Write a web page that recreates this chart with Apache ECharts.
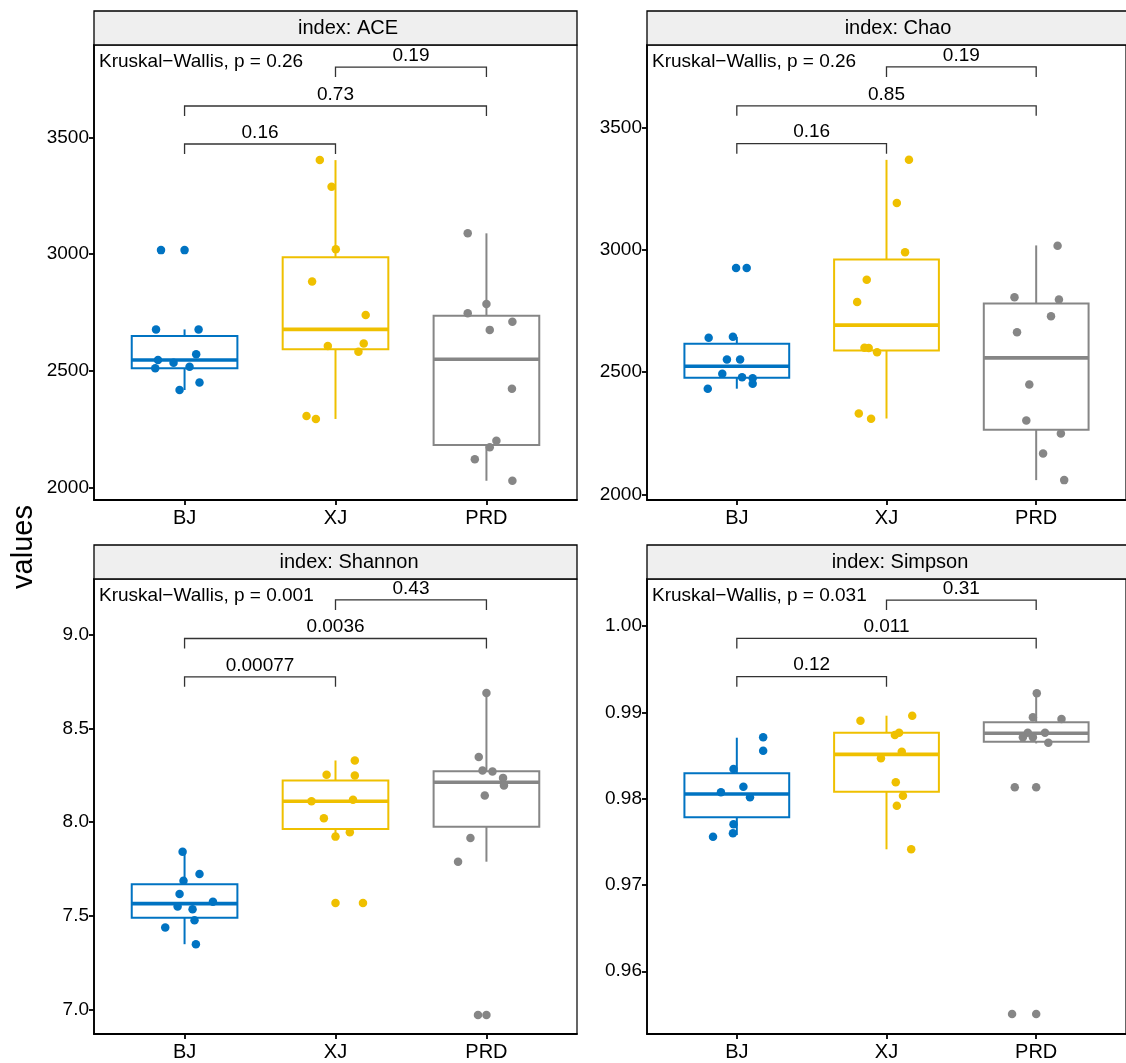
<!DOCTYPE html>
<html>
<head>
<meta charset="utf-8">
<script src="https://cdn.jsdelivr.net/npm/echarts@6/dist/echarts.min.js"></script>
<style>
  html, body { margin: 0; padding: 0; background: #fff; }
  #chart { width: 1126px; height: 1063px; }
</style>
</head>
<body>
<div id="chart"></div>
<script>
// groups and colours (jco palette)
const groups = ['BJ', 'XJ', 'PRD']
const colors = ['#0073C2', '#EFC000', '#868686']
const panelNames = ['ACE', 'Chao', 'Shannon', 'Simpson']
const kwLabels = ['Kruskal\u2212Wallis, p = 0.26', 'Kruskal\u2212Wallis, p = 0.26', 'Kruskal\u2212Wallis, p = 0.001', 'Kruskal\u2212Wallis, p = 0.031']

// pairwise comparisons: BJ-XJ, BJ-PRD, XJ-PRD
const pairs = [[0, 1], [0, 2], [1, 2]]
const pLabels = [
  ['0.16', '0.73', '0.19'],
  ['0.16', '0.85', '0.19'],
  ['0.00077', '0.0036', '0.43'],
  ['0.12', '0.011', '0.31']
]
const bracketY = [
  [3472, 3635, 3802],
  [3434, 3589, 3748],
  [8.777, 8.982, 9.188],
  [0.99413, 0.99857, 1.00301]
]

// y ranges and ticks
const yRange = [[1945.5, 3896.6], [1976.7, 3837.8], [6.868, 9.300], [0.95273, 1.00545]]
const yTicks = [
  [2000, 2500, 3000, 3500],
  [2000, 2500, 3000, 3500],
  [7.0, 7.5, 8.0, 8.5, 9.0],
  [0.96, 0.97, 0.98, 0.99, 1.00]
]
const yDigits = [0, 0, 1, 2]

// box stats per group: [low, q1, median, q3, high]
const aceBox = [[2417, 2510, 2546, 2649, 2677], [2293, 2592, 2677, 2986, 3403], [2028, 2181, 2549, 2736, 3089]]
const chaoBox = [[2432, 2477, 2524, 2616, 2644], [2310, 2588, 2692, 2960, 3368], [2058, 2264, 2558, 2780, 3018]]
const shannonBox = [[7.348, 7.490, 7.565, 7.669, 7.842], [7.923, 7.964, 8.112, 8.223, 8.330], [7.789, 7.976, 8.214, 8.273, 8.691]]
const simpsonBox = [[0.97578, 0.97783, 0.98053, 0.98293, 0.98706], [0.97413, 0.98080, 0.98513, 0.98764, 0.98961], [0.9864, 0.98659, 0.98757, 0.98884, 0.99220]]

// sample values per group
const aceValues = [
  [3017, 3017, 2677, 2677, 2546, 2534, 2510, 2517, 2570, 2417, 2449],
  [3403, 3289, 3021, 2882, 2739, 2606, 2617, 2581, 2306, 2293],
  [3089, 2786, 2746, 2710, 2675, 2423, 2200, 2172, 2120, 2028]
]
const chaoValues = [
  [2926, 2926, 2640, 2644, 2551, 2551, 2493, 2479, 2475, 2452, 2432],
  [3368, 3192, 2990, 2878, 2787, 2599, 2598, 2581, 2331, 2309],
  [3017, 2806, 2797, 2728, 2663, 2449, 2302, 2249, 2167, 2058]
]
const shannonValues = [
  [7.842, 7.723, 7.687, 7.616, 7.575, 7.549, 7.535, 7.476, 7.437, 7.348],
  [8.330, 8.254, 8.250, 8.112, 8.120, 8.021, 7.923, 7.946, 7.568, 7.568],
  [8.691, 8.348, 8.277, 8.271, 8.237, 8.196, 8.143, 7.916, 7.789, 6.969, 6.969]
]
const simpsonValues = [
  [0.98710, 0.98555, 0.98343, 0.98138, 0.98073, 0.98015, 0.97702, 0.97598, 0.97558],
  [0.98903, 0.98961, 0.98737, 0.98764, 0.98543, 0.98467, 0.98189, 0.98034, 0.97918, 0.97413],
  [0.99220, 0.98942, 0.98922, 0.98764, 0.98764, 0.98710, 0.98710, 0.98648, 0.98131, 0.98131, 0.95504, 0.95504]
]

// horizontal jitter of each point (category units)
const aceJitter = [
  [-0.156, 0, -0.189, 0.093, -0.176, -0.073, -0.194, 0.033, 0.077, -0.033, 0.099],
  [-0.104, -0.026, 0.002, -0.155, 0.200, -0.051, 0.187, 0.152, -0.192, -0.130],
  [-0.124, 0, -0.124, 0.172, 0.022, 0.169, 0.066, 0.022, -0.077, 0.172]
]
const chaoJitter = [
  [-0.005, 0.066, -0.188, -0.026, -0.066, 0.022, -0.097, 0.035, 0.106, 0.106, -0.194],
  [0.150, 0.069, 0.124, -0.132, -0.196, -0.147, -0.119, -0.063, -0.185, -0.103],
  [0.143, -0.145, 0.152, 0.099, -0.128, -0.046, -0.066, 0.165, 0.046, 0.187]
]
const shannonJitter = [
  [-0.013, 0.099, -0.007, -0.033, 0.188, -0.046, 0.053, 0.066, -0.128, 0.075],
  [0.128, -0.059, 0.128, -0.159, 0.116, -0.077, 0, 0.095, 0, 0.182],
  [0, -0.051, -0.026, 0.040, 0.110, 0.116, -0.011, -0.106, -0.188, -0.056, 0]
]
const simpsonJitter = [
  [0.176, 0.176, -0.022, 0.044, -0.106, 0.088, -0.022, -0.026, -0.159],
  [-0.174, 0.172, 0.056, 0.084, 0.102, -0.037, 0.062, 0.110, 0.069, 0.165],
  [0.004, -0.022, 0.169, -0.056, 0.059, -0.022, -0.089, 0.081, -0.143, 0, -0.161, 0]
]

const boxes = [aceBox, chaoBox, shannonBox, simpsonBox]
const values = [aceValues, chaoValues, shannonValues, simpsonValues]
const jitters = [aceJitter, chaoJitter, shannonJitter, simpsonJitter]

// layout of the 2x2 facets
const FONT = 'Liberation Sans, Arial, sans-serif'
const gridPos = [
  { left: 94, top: 45 },
  { left: 647, top: 45 },
  { left: 94, top: 579 },
  { left: 647, top: 579 }
]
const PANEL_W = 483
const PANEL_H = 455
const stripCenters = [348, 898, 349, 900]

const chart = echarts.init(document.getElementById('chart'), null, { renderer: 'canvas' })

const grid = []
const xAxis = []
const yAxis = []
const series = []
const graphic = []

panelNames.forEach((name, i) => {
  const g = gridPos[i]
  grid.push({
    left: g.left, top: g.top, width: PANEL_W, height: PANEL_H,
    show: true, borderColor: '#000', borderWidth: 1.2, backgroundColor: 'transparent'
  })
  xAxis.push({
    gridIndex: i, type: 'value', min: -0.6, max: 2.6,
    splitLine: { show: false },
    axisLine: { show: true, onZero: false, lineStyle: { color: '#000', width: 1.8 } },
    axisTick: { show: true, length: 5, customValues: [0, 1, 2], lineStyle: { color: '#000', width: 1.8 } },
    axisLabel: {
      customValues: [0, 1, 2], formatter: v => groups[Math.round(v)],
      color: '#000', fontSize: 20, fontFamily: FONT, margin: 8
    }
  })
  yAxis.push({
    gridIndex: i, type: 'value', min: yRange[i][0], max: yRange[i][1],
    splitLine: { show: false },
    axisLine: { show: true, onZero: false, lineStyle: { color: '#000', width: 1.8 } },
    axisTick: { show: true, length: 5, customValues: yTicks[i], lineStyle: { color: '#000', width: 1.8 } },
    axisLabel: {
      customValues: yTicks[i], formatter: v => Number(v).toFixed(yDigits[i]),
      color: '#000', fontSize: 19, fontFamily: FONT, margin: 5
    }
  })

  // boxes
  series.push({
    type: 'custom', xAxisIndex: i, yAxisIndex: i, z: 2,
    data: boxes[i].map((b, k) => [k].concat(b)),
    renderItem: (params, api) => {
      const k = api.value(0)
      const col = colors[k]
      const half = api.size([0.35, 0])[0]
      const lo = api.coord([k, api.value(1)])
      const q1 = api.coord([k, api.value(2)])
      const md = api.coord([k, api.value(3)])
      const q3 = api.coord([k, api.value(4)])
      const hi = api.coord([k, api.value(5)])
      const st = { stroke: col, lineWidth: 2, fill: null }
      return {
        type: 'group',
        children: [
          { type: 'line', shape: { x1: lo[0], y1: lo[1], x2: q1[0], y2: q1[1] }, style: st },
          { type: 'line', shape: { x1: q3[0], y1: q3[1], x2: hi[0], y2: hi[1] }, style: st },
          { type: 'rect', shape: { x: q3[0] - half, y: q3[1], width: half * 2, height: q1[1] - q3[1] }, style: { stroke: col, lineWidth: 2, fill: '#fff' } },
          { type: 'line', shape: { x1: md[0] - half, y1: md[1], x2: md[0] + half, y2: md[1] }, style: { stroke: col, lineWidth: 3.6 } }
        ]
      }
    }
  })

  // jittered points
  groups.forEach((grp, k) => {
    series.push({
      type: 'scatter', xAxisIndex: i, yAxisIndex: i, z: 3,
      symbol: 'circle', symbolSize: 8.5,
      itemStyle: { color: colors[k], opacity: 1 },
      data: values[i][k].map((v, j) => [k + jitters[i][k][j], v])
    })
  })

  // comparison brackets
  series.push({
    type: 'custom', xAxisIndex: i, yAxisIndex: i, z: 4,
    data: pairs.map((p, j) => [p[0], p[1], bracketY[i][j], j]),
    renderItem: (params, api) => {
      const a = api.coord([api.value(0), api.value(2)])
      const b = api.coord([api.value(1), api.value(2)])
      const label = pLabels[i][api.value(3)]
      return {
        type: 'group',
        children: [
          { type: 'polyline', shape: { points: [[a[0], a[1] + 10], [a[0], a[1]], [b[0], b[1]], [b[0], b[1] + 10]] },
            style: { stroke: '#333', lineWidth: 1.3, fill: null } },
          { type: 'text', x: (a[0] + b[0]) / 2, y: a[1] - 2,
            style: { text: label, fill: '#000', font: '19px ' + FONT, textAlign: 'center', textVerticalAlign: 'bottom' } }
        ]
      }
    }
  })

  // strip
  graphic.push({
    type: 'rect', z: 10,
    shape: { x: g.left, y: g.top - 34, width: PANEL_W, height: 34 },
    style: { fill: '#EFEFEF', stroke: '#000', lineWidth: 1.3 }
  })
  graphic.push({
    type: 'text', z: 11, x: stripCenters[i], y: g.top - 17,
    style: { text: 'index: ' + name, fill: '#000', font: '20px ' + FONT, textAlign: 'center', textVerticalAlign: 'middle' }
  })
  // Kruskal-Wallis label
  graphic.push({
    type: 'text', z: 11, x: g.left + 5, y: g.top + 17,
    style: { text: kwLabels[i], fill: '#000', font: '19px ' + FONT, textAlign: 'left', textVerticalAlign: 'middle' }
  })
})

graphic.push({
  type: 'text', x: 24, y: 547, rotation: Math.PI / 2,
  style: { text: 'values', fill: '#000', font: '29px ' + FONT, textAlign: 'center', textVerticalAlign: 'middle' }
})

chart.setOption({
  animation: false,
  backgroundColor: '#fff',
  grid, xAxis, yAxis, series, graphic
})
</script>
</body>
</html>
